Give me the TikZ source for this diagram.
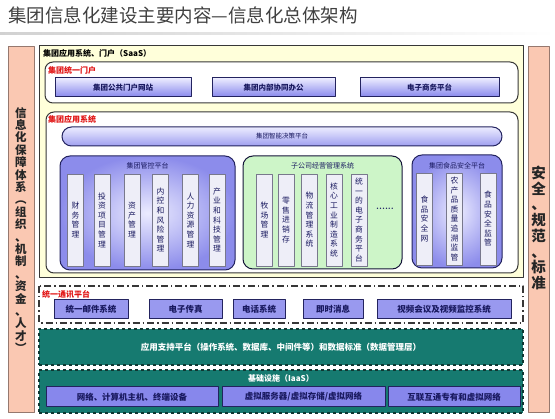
\documentclass[tikz,border=0pt]{standalone}
\usepackage{fontspec}
\usepackage{xcolor}
\usepackage{tikz}
\usetikzlibrary{positioning}
\newfontfamily\cjk{Noto Sans CJK SC}
\definecolor{pinkfill}{RGB}{250,200,178}
\definecolor{pinkline}{RGB}{150,120,110}
\definecolor{saasfill}{RGB}{255,255,218}
\definecolor{frame}{RGB}{55,55,55}
\definecolor{btnline}{RGB}{35,35,95}
\definecolor{btntop}{RGB}{236,236,255}
\definecolor{btnbot}{RGB}{135,135,236}
\definecolor{platfill}{RGB}{140,140,235}
\definecolor{greenfill}{RGB}{205,245,200}
\definecolor{barfill}{RGB}{238,238,248}
\definecolor{barline}{RGB}{120,120,140}
\definecolor{tealfill}{RGB}{22,122,112}
\definecolor{tealline}{RGB}{15,55,50}
\definecolor{navytext}{RGB}{25,25,95}
\definecolor{redtext}{RGB}{225,20,20}

\begin{document}
\begin{tikzpicture}[x=1pt,y=-1pt,line join=round,
  pinkbar/.style={draw=pinkline,fill=pinkfill,line width=0.8pt},
  sidetxt/.style={inner sep=0pt,align=center,text=black!85},
  redlbl/.style={anchor=west,inner sep=0pt,font=\cjk\bfseries\fontsize{8}{8}\selectfont,text=redtext},
  btn/.style={draw=btnline,line width=1pt,top color=btntop,bottom color=btnbot,inner sep=0pt,
    minimum height=19,font=\cjk\bfseries\fontsize{7.5}{7.5}\selectfont,text=navytext},
  cbtn/.style={draw=btnline,line width=1pt,fill=btnbot!85,inner sep=0pt,
    minimum height=19,font=\cjk\bfseries\fontsize{8.5}{8.5}\selectfont,text=navytext},
  bar/.style={draw=barline,line width=0.6pt,fill=barfill,inner sep=0pt,minimum width=16,
    minimum height=92,align=center,font=\cjk\fontsize{7.8}{9.6}\selectfont,text=navytext},
  plattl/.style={inner sep=0pt,font=\cjk\fontsize{7}{7}\selectfont,text=navytext},
  teal/.style={draw=tealline,dashed,line width=1.3pt,fill=tealfill,inner sep=0pt,minimum width=484},
  whitetxt/.style={inner sep=0pt,font=\cjk\bfseries\fontsize{8.5}{8.5}\selectfont,text=white}]
\useasboundingbox (0,0) rectangle (555,419);
% title
\node[anchor=west,inner sep=0pt,font=\cjk\fontsize{18.5}{18.5}\selectfont,text=black!75] (title) at (8,15)
  {集团信息化建设主要内容—信息化总体架构};
\shade[left color=black!18,right color=white] (0,32.5) rectangle (555,34.5);
% side bars
\draw[pinkbar] (8,46) rectangle (34,412);
\draw[pinkbar] (528,46) rectangle (549,412);
\node[sidetxt,font=\cjk\bfseries\fontsize{11.5}{12.4}\selectfont] (guard) at (21,230)
  {信\\息\\化\\保\\障\\体\\系\\︵\\组\\织\\、\\机\\制\\、\\资\\金\\、\\人\\才\\︶};
\node[sidetxt,font=\cjk\bfseries\fontsize{14.5}{15.7}\selectfont] (norms) at (538.5,228)
  {安\\全\\、\\规\\范\\、\\标\\准};

% SaaS layer
\draw[frame,line width=1pt,fill=saasfill] (39,46) rectangle (523,278);
\node[anchor=west,inner sep=0pt,font=\cjk\bfseries\fontsize{8}{8}\selectfont] (saas) at (43,53.5)
  {集团应用系统、门户（SaaS）};
\draw[frame,line width=1pt,fill=white,rounded corners=8] (45,62) rectangle (518,103);
\node[redlbl] (portal) at (48,70) {集团统一门户};
\node[btn,minimum width=136] (pub) at (123,87.5) {集团公共门户网站};
\node[btn,minimum width=123] (coop) at (273.5,87.5) {集团内部协同办公};
\node[btn,minimum width=139] (ecom) at (429.5,87.5) {电子商务平台};

\draw[frame,line width=1pt,fill=white,rounded corners=8] (46,112) rectangle (518,273);
\node[redlbl] (apps) at (48,119.5) {集团应用系统};
\node[draw=btnline,line width=1pt,top color=btntop,bottom color=btnbot!80,rounded corners=9.5,
  minimum width=440,minimum height=19,inner sep=0pt,font=\cjk\fontsize{6.5}{6.5}\selectfont,text=navytext]
  (bi) at (282,136.5) {集团智能决策平台};

% 1st platform
\node[draw=btnline,line width=1pt,rounded corners=10,inner color=btntop,outer color=platfill,
  minimum width=175,minimum height=114,inner sep=0pt] (ctrl) at (147.5,213) {};
\node[plattl] (ctrlt) at (147.5,165.5) {集团管控平台};
\node[bar] (c1) at (75.5,220) {财\\务\\管\\理};
\node[bar] (c2) at (102,220) {投\\资\\项\\目\\管\\理};
\node[bar] (c3) at (132,220) {资\\产\\管\\理};
\node[bar] (c4) at (160.5,220) {内\\控\\和\\风\\险\\管\\理};
\node[bar] (c5) at (190.5,220) {人\\力\\资\\源\\管\\理};
\node[bar] (c6) at (217,220) {产\\业\\和\\科\\技\\管\\理};
% 2nd platform
\node[draw=btnline!60!black,line width=1pt,rounded corners=10,fill=greenfill,
  minimum width=159,minimum height=113,inner sep=0pt] (sub) at (322.5,212.5) {};
\node[plattl] (subt) at (322.5,165.5) {子公司经营管理系统};
\node[bar] (s1) at (264.5,220) {牧\\场\\管\\理};
\node[bar] (s2) at (286,220) {零\\售\\进\\销\\存};
\node[bar] (s3) at (309.5,220) {物\\流\\管\\理\\系\\统};
\node[bar] (s4) at (334,220) {核\\心\\工\\业\\制\\造\\系\\统};
\node[bar] (s5) at (359,220) {统\\一\\的\\电\\子\\商\\务\\平\\台};
\node[inner sep=0pt,font=\bfseries\fontsize{9}{9}\selectfont,text=navytext] (more) at (385,209) {......};
% 3rd platform
\node[draw=btnline,line width=1pt,rounded corners=10,inner color=btntop,outer color=platfill,
  minimum width=90,minimum height=113,inner sep=0pt] (food) at (457,211.5) {};
\node[plattl] (foodt) at (457,166) {集团食品安全平台};
\node[bar] (f1) at (424.5,219) {食\\品\\安\\全\\网};
\node[bar] (f2) at (454.5,219) {农\\产\\品\\质\\量\\追\\溯\\监\\管};
\node[bar] (f3) at (488,219) {食\\品\\安\\全\\监\\管};

% communication layer
\draw[frame,line width=1.3pt,dash pattern=on 7pt off 3pt on 1.5pt off 3pt] (39,286) rectangle (523,323);
\node[redlbl] (comm) at (42,294) {统一通讯平台};
\node[cbtn,minimum width=74] (mail) at (91,309.5) {统一邮件系统};
\node[cbtn,minimum width=73] (fax) at (185.5,309.5) {电子传真};
\node[cbtn,minimum width=52] (tel) at (259,309.5) {电话系统};
\node[cbtn,minimum width=60] (im) at (333,309.5) {即时消息};
\node[cbtn,minimum width=134] (video) at (444,309.5) {视频会议及视频监控系统};

% support and infrastructure
\node[teal,minimum height=36] (paas) at (281,347) {};
\node[whitetxt] (paast) at (281,347) {应用支持平台（操作系统、数据库、中间件等）和数据标准（数据管理层）};
\node[teal,minimum height=43] (iaas) at (281,391.5) {};
\node[whitetxt,font=\cjk\bfseries\fontsize{8}{8}\selectfont] (iaast) at (281,378) {基础设施（IaaS）};
\node[cbtn,minimum width=172,minimum height=20,fill=btnbot] (net) at (132,397) {网络、计算机主机、终端设备};
\node[cbtn,minimum width=163,minimum height=20,fill=btnbot] (virt) at (303.5,397) {虚拟服务器/虚拟存储/虚拟网络};
\node[cbtn,minimum width=132,minimum height=20,fill=btnbot] (link) at (454,397) {互联互通专有和虚拟网络};
\end{tikzpicture}
\end{document}
